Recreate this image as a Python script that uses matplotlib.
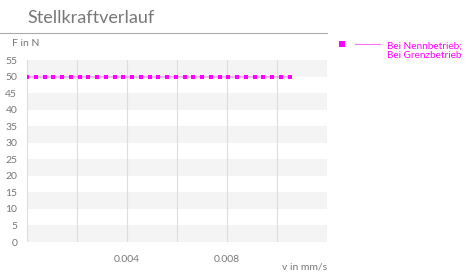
import matplotlib.pyplot as plt
from matplotlib.lines import Line2D

# Daten
v_werte = [0.0, 0.00035, 0.0007, 0.00105, 0.0014, 0.00175, 0.0021, 0.00245,
           0.0028, 0.00315, 0.0035, 0.00385, 0.0042, 0.00455, 0.0049, 0.00525,
           0.0056, 0.00595, 0.0063, 0.00665, 0.007, 0.00735, 0.0077, 0.00805,
           0.0084, 0.00875, 0.0091, 0.00945, 0.0098, 0.01015, 0.0105]
f_werte = [50] * len(v_werte)
y_ticks = [0, 5, 10, 15, 20, 25, 30, 35, 40, 45, 50, 55]
x_ticks = [0.004, 0.008]
x_grid = [0.0, 0.002, 0.004, 0.006, 0.008, 0.010, 0.012]

MAGENTA = "#ff00ff"
GRAU = "#777777"

plt.rcParams["font.family"] = ["Lato", "DejaVu Sans"]

fig = plt.figure(figsize=(4.66, 2.72), dpi=100)
ax = fig.add_axes([27 / 466, 1 - 242 / 272, 300 / 466, 182 / 272])

# Streifen im Hintergrund
for y0 in range(0, 55, 10):
    ax.axhspan(y0, y0 + 5, color="#f4f4f4", lw=0, zorder=0)
for x in x_grid:
    ax.axvline(x, color="#dddddd", lw=0.8, zorder=1)

ax.plot(v_werte, f_werte, color=MAGENTA, alpha=0.35, lw=1.2, zorder=2)
ax.plot(v_werte, f_werte, ls="none", marker="s", ms=3.2, mew=0, color=MAGENTA, zorder=3)

ax.set_xlim(0, 0.012)
ax.set_ylim(0, 55)
ax.set_yticks(y_ticks)
ax.set_xticks(x_ticks)
ax.set_xticklabels(["0.004", "0.008"])
ax.tick_params(length=0, colors=GRAU, labelsize=7.5)
ax.tick_params(axis="y", pad=7)
ax.tick_params(axis="x", pad=9)
for s in ax.spines.values():
    s.set_visible(False)

fig.text(27 / 466, 1 - 18 / 272, "Stellkraftverlauf", fontsize=13, color=GRAU,
         va="center", ha="left")
fig.add_artist(Line2D([0, 327 / 466], [1 - 33 / 272, 1 - 33 / 272],
                      color="#aaaaaa", lw=0.8))
fig.text(12 / 466, 1 - 44 / 272, "F in N", fontsize=7.5, color=GRAU,
         va="center", ha="left")
fig.text(327 / 466, 1 - 267 / 272, "v in mm/s", fontsize=7.5, color=GRAU,
         va="center", ha="right")

# Legende
fig.add_artist(Line2D([342 / 466], [1 - 44 / 272], marker="s", ms=4, mew=0,
                      color=MAGENTA, ls="none"))
fig.add_artist(Line2D([355 / 466, 380 / 466], [1 - 44 / 272, 1 - 44 / 272],
                      color=MAGENTA, lw=0.7, alpha=0.6))
fig.text(387 / 466, 1 - 51 / 272, "Bei Nennbetrieb;\nBei Grenzbetrieb",
         fontsize=7.2, color=MAGENTA, va="center", ha="left", linespacing=1.1)

fig.savefig("out.png", dpi=100)
